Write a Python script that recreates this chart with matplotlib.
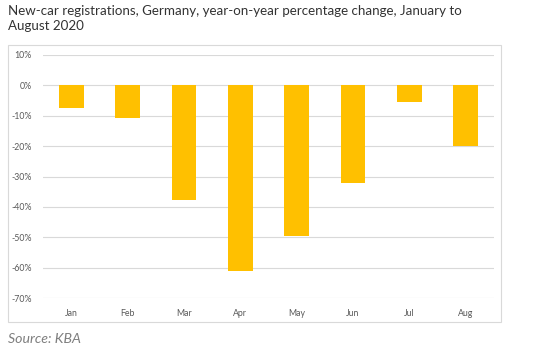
import matplotlib
matplotlib.use('Agg')
import matplotlib.pyplot as plt
from matplotlib.patches import Rectangle
from matplotlib.ticker import FuncFormatter

months = ['Jan', 'Feb', 'Mar', 'Apr', 'May', 'Jun', 'Jul', 'Aug']
yoy_change = [-7.3, -10.8, -37.7, -61.1, -49.5, -32.3, -5.4, -20.0]
y_ticks = [10, 0, -10, -20, -30, -40, -50, -60, -70]

W, H = 554, 352
fig = plt.figure(figsize=(W / 100, H / 100), dpi=100)
plt.rcParams['font.family'] = ['Lato', 'DejaVu Sans']

# outer chart frame
fig.patches.append(Rectangle((8 / W, 1 - 322 / H), 493 / W, 277 / H,
                             transform=fig.transFigure, fill=False,
                             edgecolor='#d9d9d9', linewidth=0.8))

ax = fig.add_axes([43 / W, 1 - 298 / H, 451 / W, 243 / H])
ax.bar(range(len(months)), yoy_change, width=0.44, color='#ffc000', zorder=3)

ax.set_xlim(-0.5, len(months) - 0.5)
ax.set_ylim(-70, 10)
ax.set_yticks(y_ticks)
ax.yaxis.set_major_formatter(FuncFormatter(lambda v, p: f'{v:.0f}%'))
ax.set_xticks(range(len(months)))
ax.set_xticklabels(months)
ax.grid(axis='y', color='#d9d9d9', linewidth=0.8, zorder=0)
for s in ax.spines.values():
    s.set_visible(False)
ax.tick_params(length=0, labelsize=6.3, colors='#595959')
ax.tick_params(axis='x', pad=8)
ax.tick_params(axis='y', pad=8)

fig.text(8 / W, 1 - 5 / H,
         'New-car registrations, Germany, year-on-year percentage change, January to\nAugust 2020',
         ha='left', va='top', fontsize=9.6, color='#333333', linespacing=1.3)
fig.text(8 / W, 1 - 339 / H, 'Source: KBA', ha='left', va='center',
         fontsize=10.2, style='italic', color='#7f7f7f')

fig.savefig('out.png', dpi=100)
